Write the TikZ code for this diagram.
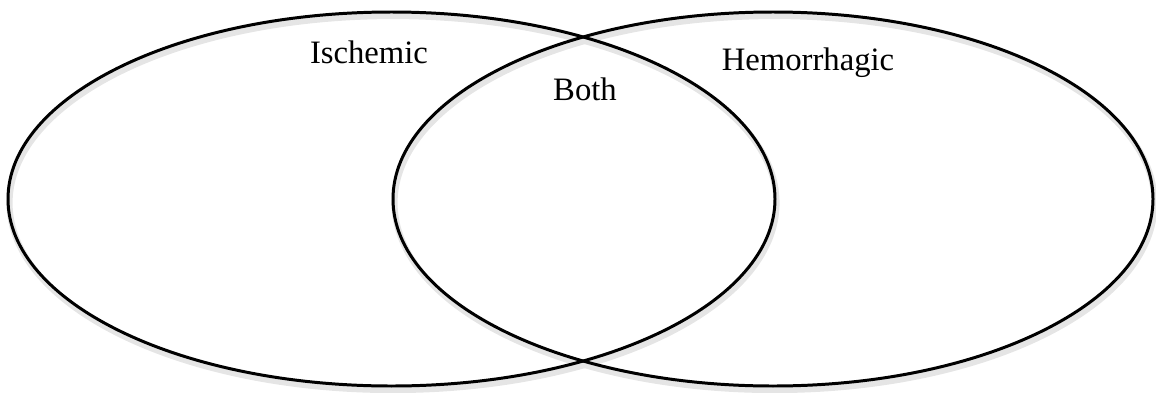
\documentclass[tikz,border=0pt]{standalone}
\usepackage{fontspec}
\setmainfont{Liberation Serif}
\usetikzlibrary{shapes.geometric,positioning,backgrounds}
\tikzset{
  setring/.style={ellipse,draw=black,line width=1.7pt,inner sep=0pt,
                  minimum width=#1,minimum height=7.48cm},
  ringshade/.style={ellipse,draw=black!10,line width=3.5pt,inner sep=0pt,
                    minimum width=#1,minimum height=7.48cm},
  setlbl/.style={font=\fontsize{18.6}{20}\selectfont,text=black,
                 inner sep=0pt,anchor=base},
}
\begin{document}
\begin{tikzpicture}

  %% -- frame ---------------------------------------------------------------
  \useasboundingbox (0,0) rectangle (23.12,7.84);

  %% -- soft shading under the rings ----------------------------------------
  \begin{scope}[on background layer]
    \node[ringshade=15.34cm] (ischsh) at (7.86,3.78) {};
    \node[ringshade=15.20cm] (hemosh) at (15.49,3.78) {};
  \end{scope}

  %% -- sets ----------------------------------------------------------------
  \node[setring=15.34cm] (isch) at (7.83,3.86) {};
  \node[setring=15.20cm] (hemo) at (15.46,3.86) {};

  %% -- labels --------------------------------------------------------------
  \node[setlbl] (ischlbl) at (7.38,6.58) {Ischemic};
  \node[setlbl] (bothlbl) at (11.70,5.84) {Both};
  \node[setlbl] (hemolbl) at (16.16,6.44) {Hemorrhagic};

\end{tikzpicture}
\end{document}
